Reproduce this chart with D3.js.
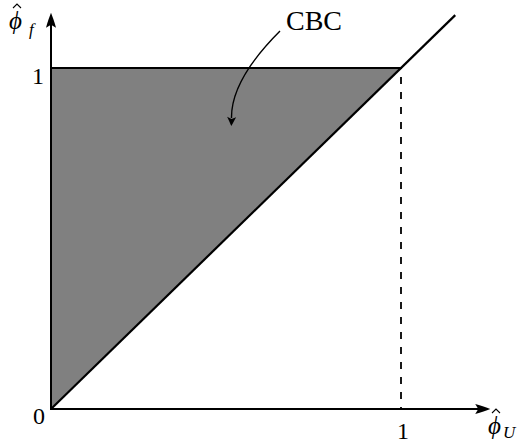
<!DOCTYPE html>
<html>
<head>
<meta charset="utf-8">
<script src="https://cdn.jsdelivr.net/npm/d3@7/dist/d3.min.js"></script>
<style>
  html, body { margin: 0; padding: 0; background: #fff; }
  svg { display: block; }
</style>
</head>
<body>
<svg id="chart" width="519" height="443"></svg>
<script>
// Constraint region in the (phi_U, phi_f) plane: 0 <= phi_U <= phi_f <= 1
const regionU = [0, 0, 1];
const regionF = [0, 1, 1];
// Boundary line phi_f = phi_U, drawn a bit past 1
const diagU = [0, 1.155];
const diagF = [0, 1.155];
// Dashed guide at phi_U = 1
const guideU = [1, 1];
const guideF = [0, 1];
// Axis extents and tick labels
const axisMaxU = 1.255;
const axisMaxF = 1.162;
const xTickValues = [1];
const yTickValues = [1];
const originLabel = "0";
const annotation = "CBC";

const SERIF = "'Liberation Serif', 'Times New Roman', 'DejaVu Serif', serif";

const svg = d3.select("#chart");

const x = d3.scaleLinear().domain([0, 1]).range([51, 401]);
const y = d3.scaleLinear().domain([0, 1]).range([409, 68]);

const line = d3.line().x(d => x(d[0])).y(d => y(d[1]));

// shaded region
svg.append("path")
  .datum(d3.zip(regionU, regionF))
  .attr("d", d => line(d) + "Z")
  .attr("fill", "#808080")
  .attr("stroke", "none");

// top edge of region
svg.append("path")
  .datum([[0, 1], [1, 1]])
  .attr("d", line)
  .attr("stroke", "#000").attr("stroke-width", 2).attr("fill", "none");

// diagonal
svg.append("path")
  .datum(d3.zip(diagU, diagF))
  .attr("d", line)
  .attr("stroke", "#000").attr("stroke-width", 2.2).attr("fill", "none");

// dashed guide
svg.append("path")
  .datum(d3.zip(guideU, guideF))
  .attr("d", line)
  .attr("stroke", "#000").attr("stroke-width", 1.8).attr("fill", "none")
  .attr("stroke-dasharray", "7,8")
  .attr("stroke-dashoffset", -10);

// axes with LaTeX-style arrow heads
function arrowHead(tipX, tipY, angle) {
  return svg.append("path")
    .attr("d", "M0,0 C-4,-1.5 -9,-3.5 -15,-5 L-12,0 L-15,5 C-9,3.5 -4,1.5 0,0 Z")
    .attr("fill", "#000")
    .attr("transform", `translate(${tipX},${tipY}) rotate(${angle})`);
}

const xAxisEnd = x(axisMaxU);
const yAxisEnd = y(axisMaxF);

svg.append("line")
  .attr("x1", x(0)).attr("y1", y(0)).attr("x2", xAxisEnd - 8).attr("y2", y(0))
  .attr("stroke", "#000").attr("stroke-width", 2);
arrowHead(xAxisEnd, y(0), 0);

svg.append("line")
  .attr("x1", x(0)).attr("y1", y(0) + 1).attr("x2", x(0)).attr("y2", yAxisEnd + 8)
  .attr("stroke", "#000").attr("stroke-width", 2);
arrowHead(x(0), yAxisEnd, -90);

// tick labels
svg.append("text")
  .attr("font-family", SERIF)
  .attr("x", x(0) - 6).attr("y", y(0) + 15)
  .attr("text-anchor", "end").attr("font-size", 24)
  .text(originLabel);

svg.selectAll(".xtick").data(xTickValues).enter().append("text")
  .attr("class", "xtick")
  .attr("font-family", SERIF)
  .attr("x", d => x(d) + 2).attr("y", y(0) + 30)
  .attr("text-anchor", "middle").attr("font-size", 24)
  .text(d => d);

svg.selectAll(".ytick").data(yTickValues).enter().append("text")
  .attr("class", "ytick")
  .attr("font-family", SERIF)
  .attr("x", x(0) - 7).attr("y", d => y(d) + 16)
  .attr("text-anchor", "end").attr("font-size", 24)
  .text(d => d);

// axis titles: hatted phi with subscript
function hatPhi(px, py, sub, subDx, subDy) {
  const g = svg.append("g").attr("transform", `translate(${px},${py})`);
  g.append("text")
    .attr("font-family", SERIF)
    .attr("font-size", 25).attr("font-style", "italic")
    .text("\u03D5");
  g.append("path")
    .attr("d", "M4,-21 L8,-25 L12,-21")
    .attr("fill", "none").attr("stroke", "#000").attr("stroke-width", 1.1);
  g.append("text")
    .attr("font-family", SERIF)
    .attr("x", subDx).attr("y", subDy)
    .attr("font-size", 17).attr("font-style", "italic")
    .text(sub);
  return g;
}
hatPhi(9, 29, "f", 20, 6);
hatPhi(488, 434, "U", 15, 4);

// annotation with curved arrow
svg.append("text")
  .attr("font-family", SERIF)
  .attr("x", 286).attr("y", 30)
  .attr("font-size", 28)
  .text(annotation);

svg.append("path")
  .attr("d", "M280,31 Q231,80 231.5,118")
  .attr("fill", "none").attr("stroke", "#000").attr("stroke-width", 1.4);
svg.append("path")
  .attr("d", "M0,0 C-2,-1 -5,-2.5 -9,-4.5 L-7,0 L-9,4.5 C-5,2.5 -2,1 0,0 Z")
  .attr("fill", "#000")
  .attr("transform", "translate(231.3,126) rotate(92)");
</script>
</body>
</html>
